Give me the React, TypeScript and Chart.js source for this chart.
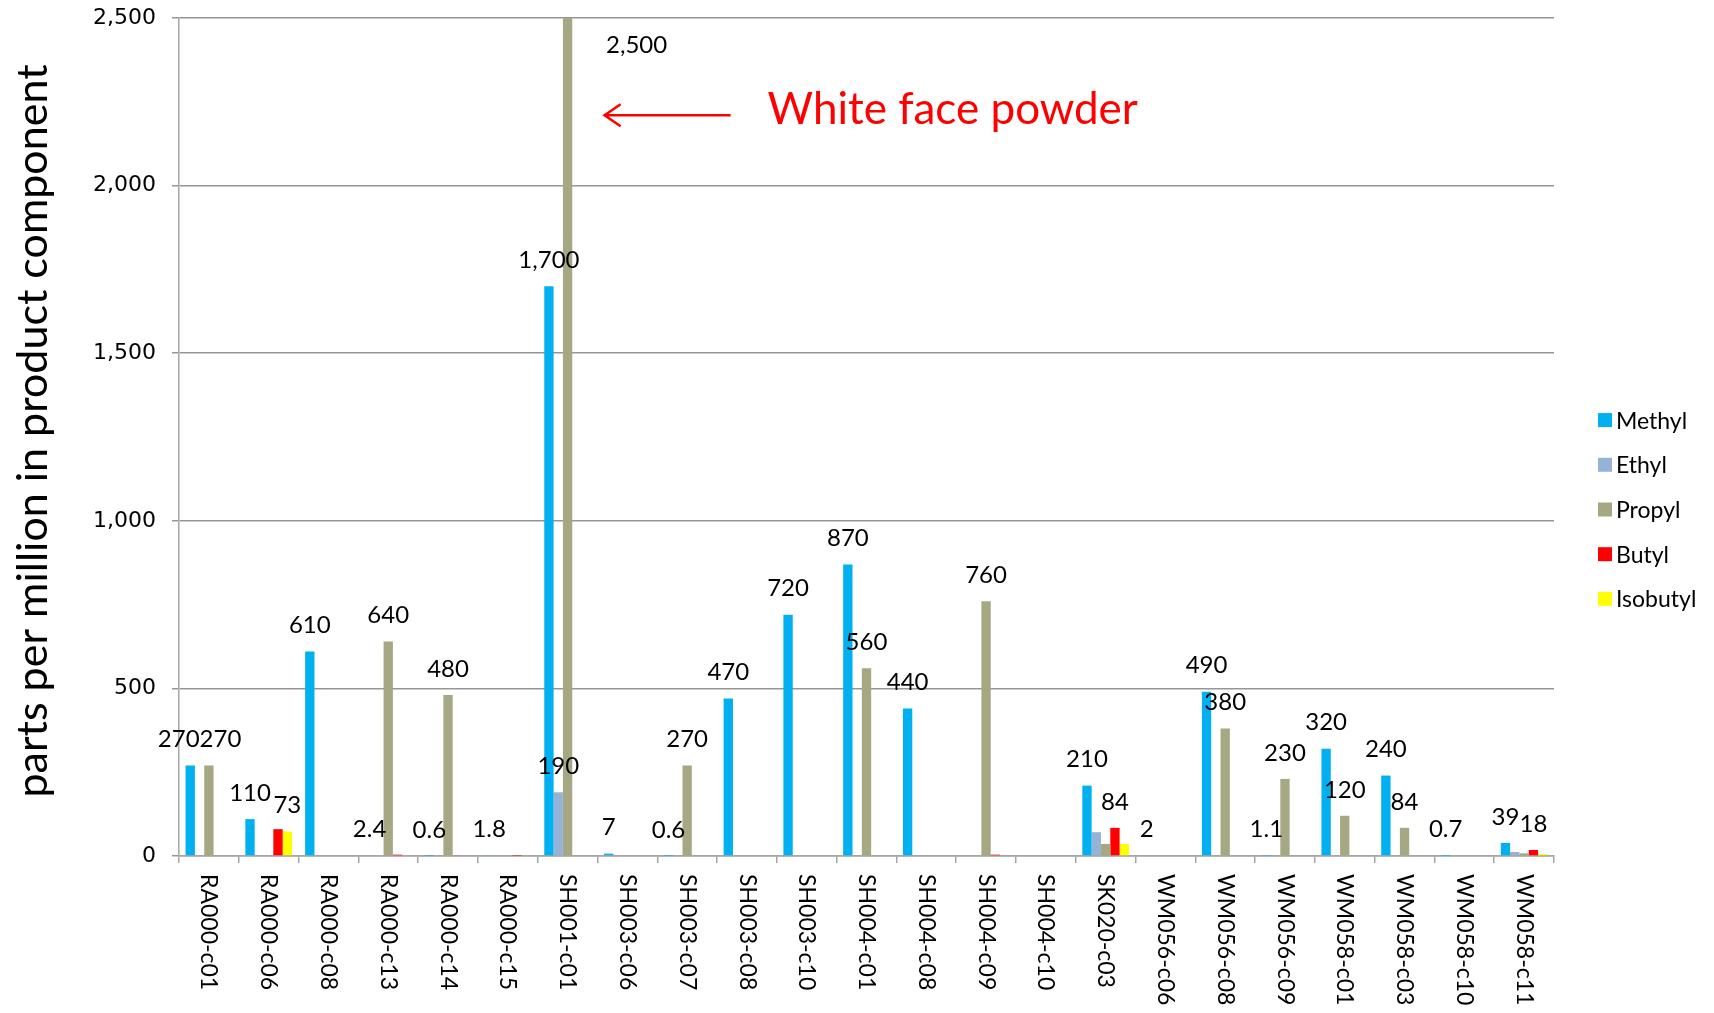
import React, { useEffect, useRef } from "react";
import { Chart, registerables } from "chart.js";

Chart.register(...registerables);

const categories = [
  "RA000-c01", "RA000-c06", "RA000-c08", "RA000-c13", "RA000-c14", "RA000-c15",
  "SH001-c01", "SH003-c06", "SH003-c07", "SH003-c08", "SH003-c10", "SH004-c01",
  "SH004-c08", "SH004-c09", "SH004-c10", "SK020-c03", "WM056-c06", "WM056-c08",
  "WM056-c09", "WM058-c01", "WM058-c03", "WM058-c10", "WM058-c11",
];

const seriesNames = ["Methyl", "Ethyl", "Propyl", "Butyl", "Isobutyl"];
const seriesColors = ["#00B0F0", "#95B3D7", "#A5A882", "#FF0000", "#FFFF00"];

const methyl = [270, 110, 610, 2.4, 0.6, 1.8, 1700, 7, 0.6, 470, 720, 870, 440, 0, 0, 210, 2, 490, 1.1, 320, 240, 0.7, 39];
const ethyl = [0, 0, 0, 1, 0, 0, 190, 0, 0, 0, 0, 0, 0, 0, 0, 71, 0, 0, 0, 0, 0, 0, 12];
const propyl = [270, 0, 0, 640, 480, 2, 2500, 2, 270, 0, 0, 560, 0, 760, 0, 36, 1.5, 380, 230, 120, 84, 0, 8];
const butyl = [0, 80, 0, 4, 2, 1, 0, 0, 0, 0, 0, 0, 0, 4, 0, 84, 0, 0, 0, 0, 0, 0, 18];
const isobutyl = [0, 73, 0, 0, 0, 0, 0, 0, 0, 0, 0, 0, 0, 0, 0, 36, 0, 0, 0, 0, 0, 0, 6];

// category indices whose bar carries a value label, per series
const methylLabelled = [0, 1, 2, 3, 4, 5, 6, 7, 8, 9, 10, 11, 12, 15, 16, 17, 18, 19, 20, 21, 22];
const ethylLabelled = [6];
const propylLabelled = [0, 3, 4, 6, 8, 11, 13, 17, 18, 19, 20];
const butylLabelled = [15, 22];
const isobutylLabelled = [1];

const yMin = 0;
const yMax = 2500;
const yStep = 500;
const yTitle = "parts per million in product component";

const annotationText = "White face powder";
const annotationCategory = 6; // SH001-c01
const annotationSeries = 2; // Propyl bar
const annotationValue = 2210;

const fmt = (v: number) => v.toLocaleString("en-US");

const customDraw = {
  id: "customDraw",
  afterDraw(chart: any) {
    const ctx = chart.ctx;
    const area = chart.chartArea;
    const xs = chart.scales.x;
    const ys = chart.scales.y;
    ctx.save();

    // x category labels, rotated clockwise
    ctx.font = "23px Lato";
    ctx.fillStyle = "#000";
    ctx.textAlign = "left";
    ctx.textBaseline = "middle";
    categories.forEach((c, i) => {
      const x = xs.getPixelForValue(i);
      ctx.save();
      ctx.translate(x, area.bottom + 18);
      ctx.rotate(Math.PI / 2);
      ctx.fillText(c, 0, 0);
      ctx.restore();
    });

    // data labels
    const labelled = [methylLabelled, ethylLabelled, propylLabelled, butylLabelled, isobutylLabelled];
    ctx.font = "24px Lato";
    ctx.textAlign = "center";
    const perCat: any[][] = categories.map(() => []);
    labelled.forEach((idxs, di) => {
      const meta = chart.getDatasetMeta(di);
      const data = chart.data.datasets[di].data as number[];
      idxs.forEach((i) => {
        const bar = meta.data[i];
        const text = fmt(data[i]);
        const w = ctx.measureText(text).width;
        let x = bar.x;
        let y = bar.y - 26;
        if (y < area.top + 8) {
          x = bar.x + 69;
          y = area.top + 27;
        }
        perCat[i].push({ x, y, text, w });
      });
    });
    perCat.forEach((items) => {
      items.sort((a, b) => a.x - b.x);
      for (let k = 1; k < items.length; k++) {
        const a = items[k - 1];
        const b = items[k];
        if (Math.abs(a.y - b.y) < 18) {
          const overlap = a.x + a.w / 2 - (b.x - b.w / 2);
          if (overlap > 0) {
            a.x -= overlap / 2;
            b.x += overlap / 2;
          }
        }
      }
      items.forEach((it) => ctx.fillText(it.text, it.x, it.y));
    });

    // annotation arrow + text
    const tBar = chart.getDatasetMeta(annotationSeries).data[annotationCategory];
    const ay = ys.getPixelForValue(annotationValue);
    const headX = tBar.x + 37;
    const tailX = tBar.x + 163;
    ctx.strokeStyle = "#FF0000";
    ctx.lineWidth = 2.5;
    ctx.beginPath();
    ctx.moveTo(tailX, ay);
    ctx.lineTo(headX, ay);
    ctx.moveTo(headX + 16, ay - 11);
    ctx.lineTo(headX, ay);
    ctx.lineTo(headX + 16, ay + 11);
    ctx.stroke();
    ctx.fillStyle = "#FF0000";
    ctx.font = "44px Lato";
    ctx.textAlign = "left";
    ctx.textBaseline = "middle";
    ctx.fillText(annotationText, tBar.x + 200, ay - 5);

    // legend
    const lx = area.right + 44;
    const mid = chart.height / 2 + 3;
    ctx.font = "23px Lato";
    ctx.textBaseline = "middle";
    chart.data.datasets.forEach((ds: any, k: number) => {
      const y = mid + (k - 2) * 44.7;
      ctx.fillStyle = ds.backgroundColor;
      ctx.fillRect(lx, y - 7, 14, 14);
      ctx.fillStyle = "#000";
      ctx.fillText(ds.label, lx + 18, y + 1);
    });

    // y axis title
    ctx.save();
    ctx.font = "43px Lato";
    ctx.fillStyle = "#000";
    ctx.textAlign = "center";
    ctx.textBaseline = "middle";
    ctx.translate(33, (area.top + area.bottom) / 2 - 6);
    ctx.rotate(-Math.PI / 2);
    ctx.fillText(yTitle, 0, 0);
    ctx.restore();

    ctx.restore();
  },
};

export default function App() {
  const ref = useRef<HTMLCanvasElement | null>(null);

  useEffect(() => {
    document.body.style.margin = "0";
    const canvas = ref.current;
    if (!canvas) return;
    const values = [methyl, ethyl, propyl, butyl, isobutyl];
    const chart = new Chart(canvas, {
      type: "bar",
      data: {
        labels: categories,
        datasets: seriesNames.map((name, k) => ({
          label: name,
          data: values[k],
          backgroundColor: seriesColors[k],
          borderWidth: 0,
          barPercentage: 1,
          categoryPercentage: 0.78,
        })),
      },
      options: {
        responsive: false,
        animation: false,
        devicePixelRatio: 1,
        layout: { padding: { top: 18, right: 160, left: 0, bottom: 0 } },
        plugins: {
          legend: { display: false },
          tooltip: { enabled: false },
        },
        scales: {
          x: {
            offset: true,
            grid: {
              display: true,
              offset: true,
              drawOnChartArea: false,
              drawTicks: true,
              tickLength: 7,
              color: "#A6A6A6",
              lineWidth: 1.5,
            },
            border: { display: true, color: "#A6A6A6", width: 1.5 },
            ticks: { display: false },
            afterFit: (s: any) => {
              s.height = 157;
              s.paddingLeft = 0;
              s.paddingRight = 0;
            },
          },
          y: {
            min: yMin,
            max: yMax,
            ticks: {
              stepSize: yStep,
              color: "#000",
              padding: 16,
              font: { family: "DejaVu Sans", size: 22 },
              callback: (v: any) => fmt(Number(v)),
            },
            grid: { color: "#969696", lineWidth: 1.5, tickLength: 7 },
            border: { display: true, color: "#A6A6A6", width: 1.5 },
            title: { display: false },
            afterFit: (s: any) => {
              s.width = 179;
              s.paddingTop = 0;
              s.paddingBottom = 0;
            },
          },
        },
      },
      plugins: [customDraw],
    });
    return () => chart.destroy();
  }, []);

  return (
    <div style={{ width: 1714, height: 1013 }}>
      <canvas ref={ref} width={1714} height={1013} style={{ display: "block" }} />
    </div>
  );
}
